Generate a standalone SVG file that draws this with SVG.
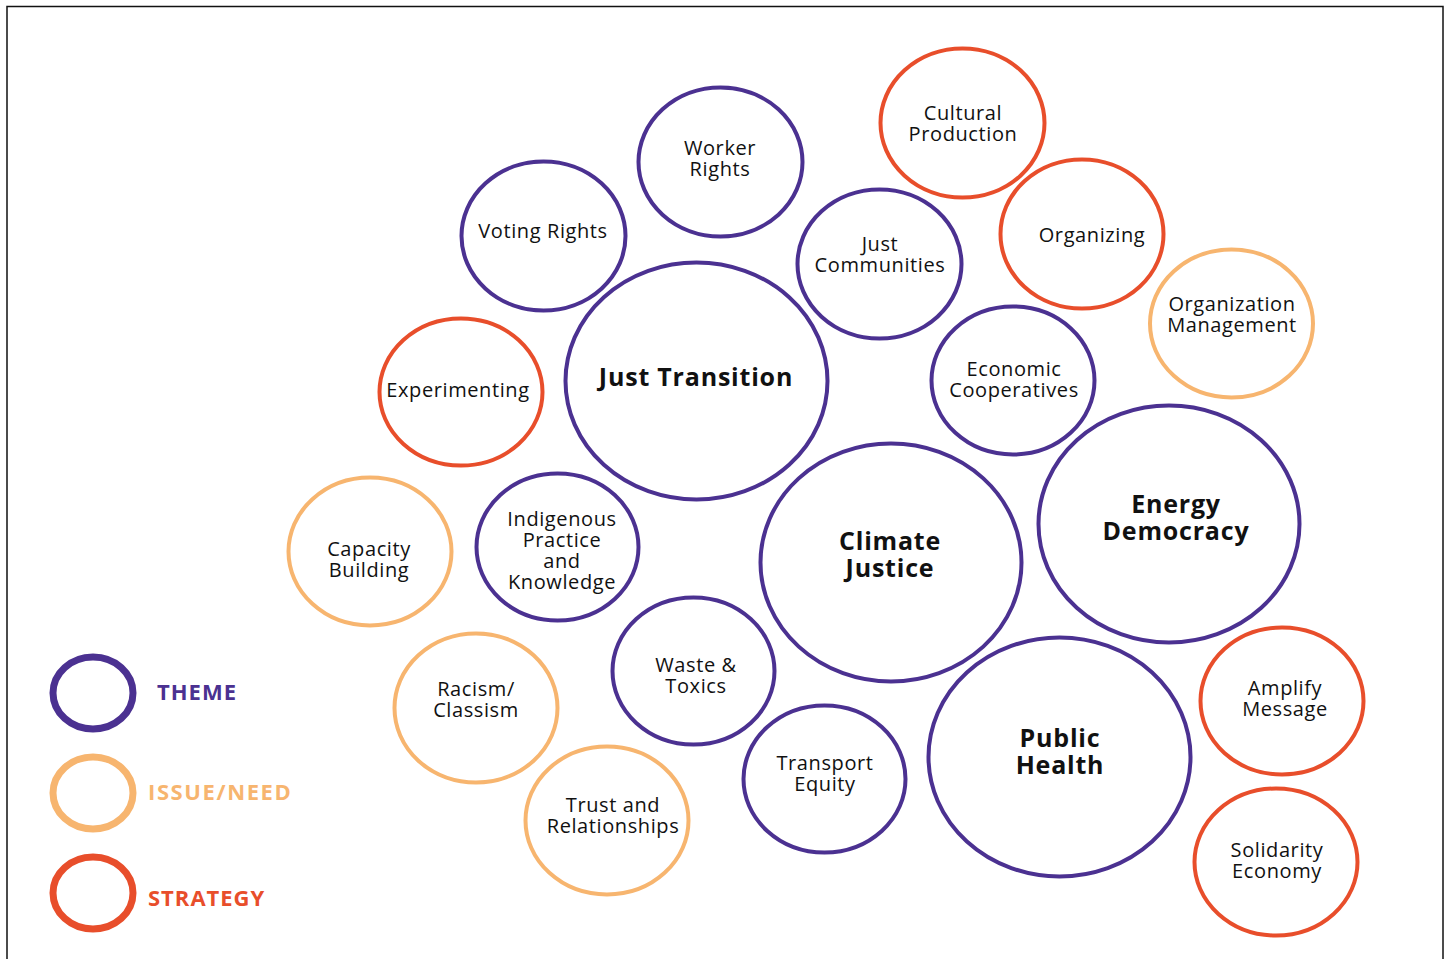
<svg xmlns="http://www.w3.org/2000/svg" width="1447" height="959" viewBox="0 0 1447 959">
<style>
.c{fill:#fff;stroke-width:4}
.t{stroke:#4b3191}
.i{stroke:#f7b56f}
.s{stroke:#e84e2b}
text{font-family:"Open Sans","Liberation Sans",sans-serif;fill:#111;text-anchor:middle;dominant-baseline:central}
.n{font-size:20px;letter-spacing:0.6px}
.b{font-size:25px;font-weight:700;letter-spacing:0.8px}
.lg{fill:none;stroke-width:7}
.lt{font-size:22px;font-weight:700;text-anchor:start;letter-spacing:1px}
</style>
<rect x="7" y="6.5" width="1436" height="970" fill="#fff" stroke="#111" stroke-width="1.5"/>
<g id="legend">
<ellipse class="lg t" cx="93" cy="693" rx="40" ry="36"/>
<text class="lt" x="157" y="691" style="fill:#4b3191">THEME</text>
<ellipse class="lg i" cx="93" cy="793" rx="40" ry="36"/>
<text class="lt" x="148" y="791" style="fill:#f7b56f;letter-spacing:1.6px">ISSUE/NEED</text>
<ellipse class="lg s" cx="93" cy="893" rx="40" ry="36"/>
<text class="lt" x="148" y="897" style="fill:#e84e2b">STRATEGY</text>
</g>
<g id="connectors"></g>
<g id="worker-rights"><ellipse class="c t" cx="720.5" cy="162" rx="82" ry="74.5"/><text class="n" x="720" y="147">Worker<tspan x="720" dy="21">Rights</tspan></text></g>
<g id="cultural-production"><ellipse class="c s" cx="962.5" cy="123" rx="82" ry="74.5"/><text class="n" x="963" y="112">Cultural<tspan x="963" dy="21">Production</tspan></text></g>
<g id="voting-rights"><ellipse class="c t" cx="543.5" cy="236" rx="82" ry="74.5"/><text class="n" x="543" y="230">Voting Rights</text></g>
<g id="just-communities"><ellipse class="c t" cx="879.5" cy="264" rx="82" ry="74.5"/><text class="n" x="880" y="243">Just<tspan x="880" dy="21">Communities</tspan></text></g>
<g id="organizing"><ellipse class="c s" cx="1082" cy="234" rx="81.5" ry="74.5"/><text class="n" x="1092" y="234">Organizing</text></g>
<g id="organization-management"><ellipse class="c i" cx="1231.5" cy="323.5" rx="81.5" ry="74"/><text class="n" x="1232" y="303">Organization<tspan x="1232" dy="21">Management</tspan></text></g>
<g id="experimenting"><ellipse class="c s" cx="461" cy="392" rx="81.5" ry="73.5"/><text class="n" x="458" y="389">Experimenting</text></g>
<g id="just-transition"><ellipse class="c t" cx="696.5" cy="381" rx="131" ry="118.5"/><text class="b" x="696" y="376">Just Transition</text></g>
<g id="economic-cooperatives"><ellipse class="c t" cx="1013" cy="380.5" rx="81.5" ry="74"/><text class="n" x="1014" y="368">Economic<tspan x="1014" dy="21">Cooperatives</tspan></text></g>
<g id="energy-democracy"><ellipse class="c t" cx="1169" cy="524" rx="130.5" ry="118.5"/><text class="b" x="1176" y="503">Energy<tspan x="1176" dy="27">Democracy</tspan></text></g>
<g id="climate-justice"><ellipse class="c t" cx="891" cy="562.5" rx="130.5" ry="119"/><text class="b" x="890" y="540">Climate<tspan x="890" dy="27">Justice</tspan></text></g>
<g id="capacity-building"><ellipse class="c i" cx="370" cy="551.5" rx="81.5" ry="74"/><text class="n" x="369" y="548">Capacity<tspan x="369" dy="21">Building</tspan></text></g>
<g id="indigenous-practice"><ellipse class="c t" cx="557.5" cy="547" rx="81" ry="73.5"/><text class="n" x="562" y="518">Indigenous<tspan x="562" dy="21">Practice</tspan><tspan x="562" dy="21">and</tspan><tspan x="562" dy="21">Knowledge</tspan></text></g>
<g id="waste-toxics"><ellipse class="c t" cx="693.5" cy="671" rx="81" ry="73.5"/><text class="n" x="696" y="664">Waste &amp;<tspan x="696" dy="21">Toxics</tspan></text></g>
<g id="racism-classism"><ellipse class="c i" cx="476" cy="708" rx="81.5" ry="74.5"/><text class="n" x="476" y="688">Racism/<tspan x="476" dy="21">Classism</tspan></text></g>
<g id="transport-equity"><ellipse class="c t" cx="824.5" cy="779" rx="81" ry="73.5"/><text class="n" x="825" y="762">Transport<tspan x="825" dy="21">Equity</tspan></text></g>
<g id="public-health"><ellipse class="c t" cx="1059.5" cy="757" rx="131" ry="119.5"/><text class="b" x="1060" y="737">Public<tspan x="1060" dy="27">Health</tspan></text></g>
<g id="amplify-message"><ellipse class="c s" cx="1282" cy="701" rx="81.5" ry="73.5"/><text class="n" x="1285" y="687">Amplify<tspan x="1285" dy="21">Message</tspan></text></g>
<g id="trust-relationships"><ellipse class="c i" cx="607" cy="820.5" rx="81.5" ry="74"/><text class="n" x="613" y="804">Trust and<tspan x="613" dy="21">Relationships</tspan></text></g>
<g id="solidarity-economy"><ellipse class="c s" cx="1276" cy="862" rx="81.5" ry="73.5"/><text class="n" x="1277" y="849">Solidarity<tspan x="1277" dy="21">Economy</tspan></text></g>
</svg>
